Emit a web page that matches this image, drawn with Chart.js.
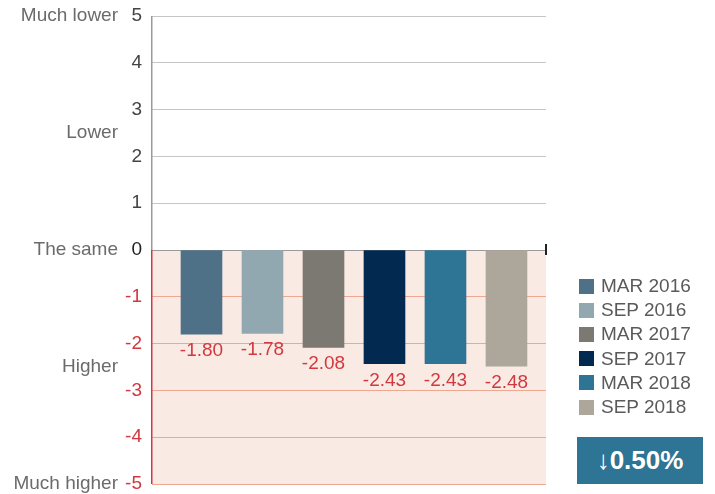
<!DOCTYPE html>
<html>
<head>
<meta charset="utf-8">
<script src="https://cdn.jsdelivr.net/npm/chart.js@4"></script>
<style>
body{margin:0;background:#fff;font-family:"Liberation Sans",Arial,sans-serif}
#wrap{position:relative;width:715px;height:494px}
#legend{position:absolute;left:579px;top:274px}
.item{height:24.2px;display:flex;align-items:center;font-size:19px;color:#5a5a5a;white-space:nowrap}
.sw{width:15px;height:15px;margin-right:7px;flex:none}
#badge{position:absolute;left:577px;top:437px;width:126px;height:47px;background:#2e7494;color:#fff;font-weight:bold;font-size:26px;line-height:47px;text-align:center}
</style>
</head>
<body>
<div id="wrap">
  <canvas id="chart"></canvas>
  <div id="legend"></div>
  <div id="badge"></div>
</div>
<script>
// survey periods and average answers
const periods = ['MAR 2016','SEP 2016','MAR 2017','SEP 2017','MAR 2018','SEP 2018'];
const values = [-1.80, -1.78, -2.08, -2.43, -2.43, -2.48];
const colors = ['#4f7188','#92a8b1','#7c7872','#022a51','#2e7494','#ada69a'];
// answer scale on the left
const levelValues = [5, 2.5, 0, -2.5, -5];
const levelLabels = ['Much lower','Lower','The same','Higher','Much higher'];
const changeText = '\u21930.50%';

const RED = '#d2383f';

// legend + badge
const legend = document.getElementById('legend');
periods.forEach((p,i)=>{
    const d = document.createElement('div');
    d.className = 'item';
    d.innerHTML = `<span class="sw" style="background:${colors[i]}"></span>${p}`;
    legend.appendChild(d);
});
document.getElementById('badge').innerText = changeText;

const zones = {
    id:'zones',
    beforeDraw(chart){
        const {ctx, chartArea:a, scales:{y}} = chart;
        const z = y.getPixelForValue(0);
        ctx.save();
        ctx.fillStyle = '#f9ebe4';
        ctx.fillRect(a.left, z, a.right-a.left, a.bottom-z);
        ctx.restore();
    },
    afterDatasetsDraw(chart){
        const {ctx, chartArea:a, scales:{y}} = chart;
        const z = y.getPixelForValue(0);
        ctx.save();
        // left axis: grey above zero, red below
        ctx.fillStyle = '#9a9a9a';
        ctx.fillRect(a.left-1, a.top, 1.5, z-a.top);
        ctx.fillStyle = RED;
        ctx.fillRect(a.left-1, z, 1.5, a.bottom-z);
        // little black tick at right end of zero line
        ctx.fillStyle = '#222';
        ctx.fillRect(a.right-1, z-6, 2, 11);
        // value labels under the bars
        ctx.fillStyle = RED;
        ctx.font = '19px "Liberation Sans", Arial, sans-serif';
        ctx.textAlign = 'center';
        ctx.textBaseline = 'alphabetic';
        chart.getDatasetMeta(0).data.forEach((bar,i)=>{
            ctx.fillText(values[i].toFixed(2), bar.x, bar.y + 22);
        });
        ctx.restore();
    }
};

const noPad = s => { s.paddingTop = 0; s.paddingBottom = 0; };

new Chart(document.getElementById('chart'), {
    type:'bar',
    data:{
        datasets:[{
            label:'Average',
            data: values.map((v,i)=>({x:i+1, y:v})),
            backgroundColor: colors,
            barThickness: 41,
            borderWidth: 0
        }]
    },
    options:{
        responsive:true,
        maintainAspectRatio:false,
        animation:false,
        layout:{padding:{top:16, bottom:10, right:169, left:0}},
        plugins:{legend:{display:false}, tooltip:{enabled:false}},
        scales:{
            x:{type:'linear', display:false, offset:false, min:0.1885, max:6.648},
            y:{
                position:'left', weight:0,
                min:-5, max:5,
                border:{display:false},
                grid:{
                    drawTicks:false,
                    color: c => c.tick.value > 0 ? '#c6c6c6' : (c.tick.value === 0 ? '#9a9a9a' : '#eda792')
                },
                ticks:{
                    stepSize:1, padding:10,
                    font:{family:'"Liberation Sans", Arial, sans-serif', size:19},
                    color: c => c.tick.value < 0 ? RED : (c.tick.value === 0 ? '#222' : '#444')
                },
                afterFit: s => { s.width = 34; noPad(s); }
            },
            yl:{
                position:'left', weight:1,
                min:-5, max:5,
                border:{display:false},
                grid:{display:false, drawTicks:false},
                afterBuildTicks: s => { s.ticks = levelValues.map(v=>({value:v})); },
                ticks:{
                    autoSkip:false, padding:0,
                    font:{family:'"Liberation Sans", Arial, sans-serif', size:19},
                    color:'#6b6b6b',
                    callback:(v,i)=>levelLabels[i]
                },
                afterFit: s => { s.width = 118; noPad(s); }
            }
        }
    },
    plugins:[zones]
});
</script>
</body>
</html>
